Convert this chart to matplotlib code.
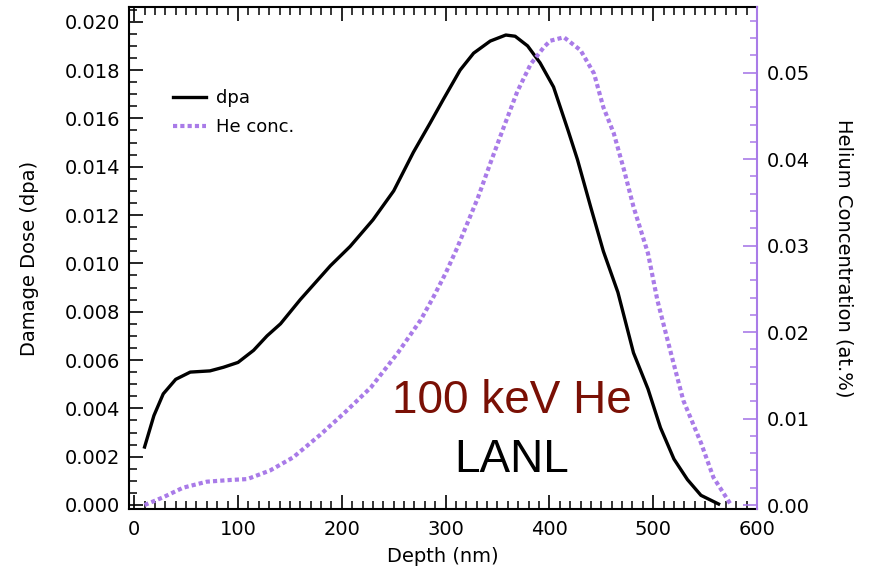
import matplotlib
matplotlib.use("Agg")
import matplotlib.pyplot as plt
from matplotlib.ticker import MultipleLocator, FormatStrFormatter

# damage dose profile (left axis)
dpa_depth = [10, 19, 28, 40, 54, 73, 86, 100, 115, 128, 141, 160, 189, 208, 230, 250,
             269, 285, 298, 314, 327, 343, 358, 367, 379, 391, 404, 418, 427, 440, 452,
             466, 481, 495, 507, 520, 533, 546, 563]
dpa = [0.0024, 0.0037, 0.0046, 0.0052, 0.0055, 0.00555, 0.0057, 0.0059, 0.0064, 0.0070,
       0.0075, 0.0085, 0.0099, 0.0107, 0.0118, 0.0130, 0.0146, 0.0158, 0.0168, 0.0180,
       0.0187, 0.0192, 0.01945, 0.0194, 0.0190, 0.0183, 0.0173, 0.0155, 0.0143, 0.0123,
       0.0105, 0.0088, 0.0063, 0.0048, 0.0032, 0.0019, 0.00105, 0.0004, 0.00004]

# helium concentration profile (right axis)
he_depth = [10, 28, 47, 70, 93, 109, 131, 153, 179, 202, 228, 254, 276, 288, 300, 311,
            331, 343, 356, 369, 382, 395, 401, 414, 430, 443, 452, 462, 472, 481, 495,
            504, 517, 529, 546, 558, 575]
he = [0.0, 0.0009, 0.0020, 0.0027, 0.0029, 0.0030, 0.0040, 0.0055, 0.0081, 0.0106,
      0.0136, 0.0176, 0.0214, 0.0240, 0.0268, 0.0297, 0.0355, 0.0395, 0.0437, 0.0478,
      0.0510, 0.0530, 0.0537, 0.0541, 0.0526, 0.0499, 0.0460, 0.0430, 0.0387, 0.0345,
      0.0291, 0.0237, 0.0176, 0.0121, 0.0072, 0.0032, 0.0]

purple = '#a97be8'
plt.rcParams['font.family'] = 'DejaVu Sans'
plt.rcParams['xtick.direction'] = 'in'
plt.rcParams['ytick.direction'] = 'in'

fig = plt.figure(figsize=(8.69, 5.75), dpi=100)
ax = fig.add_axes([129 / 869, 66 / 575, 628 / 869, 502 / 575])
ax2 = ax.twinx()

l1, = ax.plot(dpa_depth, dpa, color='black', lw=2.4, label='dpa')
l2, = ax2.plot(he_depth, he, color=purple, lw=3.0, linestyle=(0, (1.0, 0.75)),
               dash_capstyle='butt', label='He conc.')

ax.set_xlim(-5, 600)
ax.set_ylim(-0.000166, 0.02061)
ax2.set_ylim(-0.00046, 0.0576)

ax.xaxis.set_major_locator(MultipleLocator(100))
ax.xaxis.set_minor_locator(MultipleLocator(10))
ax.yaxis.set_major_locator(MultipleLocator(0.002))
ax.yaxis.set_minor_locator(MultipleLocator(0.0005))
ax.yaxis.set_major_formatter(FormatStrFormatter('%.3f'))
ax2.yaxis.set_major_locator(MultipleLocator(0.01))
ax2.yaxis.set_minor_locator(MultipleLocator(0.002))
ax2.yaxis.set_major_formatter(FormatStrFormatter('%.2f'))

ax.tick_params(axis='both', which='both', direction='in', labelsize=14)
ax.tick_params(axis='x', which='both', top=True, pad=8)
ax.tick_params(axis='y', which='both', right=False, pad=6.5)
ax.tick_params(which='major', length=10, width=1.2)
ax.tick_params(which='minor', length=5.5, width=1.1)
ax2.tick_params(axis='y', which='both', direction='in', colors=purple, labelcolor='black',
                labelsize=14, pad=7)
ax2.tick_params(axis='y', which='major', length=10, width=1.2)
ax2.tick_params(axis='y', which='minor', length=5, width=1.1)

for s in ['left', 'bottom', 'top']:
    ax.spines[s].set_linewidth(1.5)
ax.spines['right'].set_visible(False)
for s in ['left', 'bottom', 'top']:
    ax2.spines[s].set_visible(False)
ax2.spines['right'].set_color(purple)
ax2.spines['right'].set_linewidth(1.5)

ax.set_xlabel('Depth (nm)', fontsize=14, labelpad=6)
ax.set_ylabel('Damage Dose (dpa)', fontsize=14, labelpad=18)
ax2.set_ylabel('Helium Concentration (at.%)', fontsize=14, rotation=270, labelpad=31)

ax.text(363.5, 0.0038, '100 keV He', color='#7a1005', fontsize=33,
        family='Liberation Sans', ha='center', va='baseline')
ax.text(363.5, 0.00137, 'LANL', color='black', fontsize=33,
        family='Liberation Sans', ha='center', va='baseline')

ax2.legend(handles=[l1, l2], loc='upper left', bbox_to_anchor=(173 / 869, 1 - 89 / 575),
           bbox_transform=fig.transFigure, frameon=False, fontsize=13, borderpad=0,
           borderaxespad=0, handlelength=1.8, handletextpad=0.6, labelspacing=0.6)

fig.savefig('out.png', dpi=100)
